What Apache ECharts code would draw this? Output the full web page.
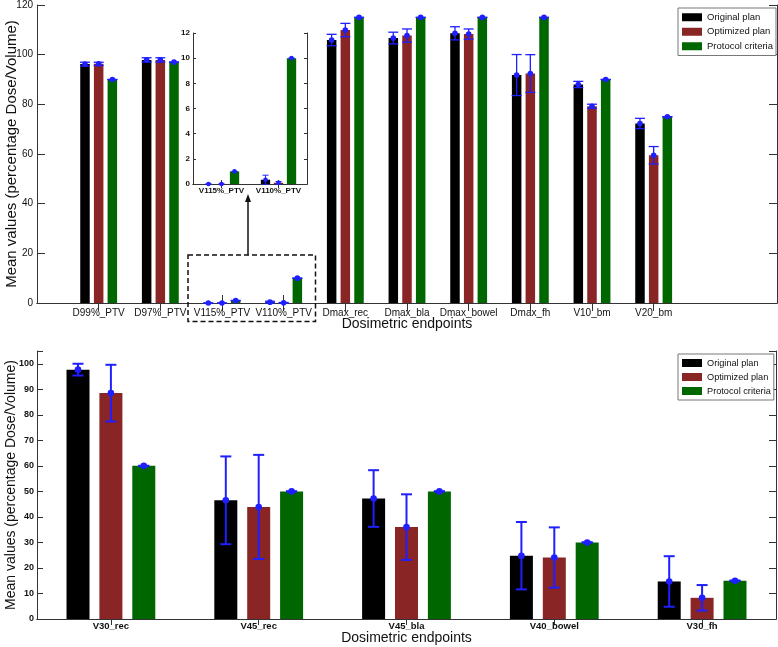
<!DOCTYPE html>
<html><head><meta charset="utf-8">
<script src="https://cdn.jsdelivr.net/npm/echarts@6/dist/echarts.min.js"></script>
<style>html,body{margin:0;padding:0;background:#fff}#c{width:778px;height:647px}</style>
</head><body><div id="c"></div>
<script>
// ---------- data ----------
const seriesNames = ['Original plan', 'Optimized plan', 'Protocol criteria'];

const topCategories = ['D99%_PTV', 'D97%_PTV', 'V115%_PTV', 'V110%_PTV', 'Dmax_rec', 'Dmax_bla', 'Dmax_bowel', 'Dmax_fh', 'V10_bm', 'V20_bm'];
const topOriginal    = [96.2, 97.9, 0, 0.34, 105.9, 106.7, 108.6, 91.8, 88.0, 72.3];
const topOriginalSd  = [0.75, 0.85, 0, 0.36, 2.3, 2.35, 2.65, 8.25, 1.25, 2.05];
const topOptimized   = [96.3, 97.9, 0, 0.1, 109.9, 107.7, 108.3, 92.4, 79.2, 59.5];
const topOptimizedSd = [0.65, 0.85, 0, 0.1, 2.7, 2.65, 2.05, 7.6, 0.85, 3.5];
const topProtocol    = [90, 97, 1, 10, 115, 115, 115, 115, 90, 75];
const topProtocolSd  = [0, 0, 0, 0, 0, 0, 0, 0, 0, 0];
const topYTicks = [0, 20, 40, 60, 80, 100, 120];

const insetCategories = ['V115%_PTV', 'V110%_PTV'];
const insetYTicks = [0, 2, 4, 6, 8, 10, 12];

const bottomCategories = ['V30_rec', 'V45_rec', 'V45_bla', 'V40_bowel', 'V30_fh'];
const bottomOriginal    = [97.7, 46.5, 47.2, 24.8, 14.7];
const bottomOriginalSd  = [2.3, 17.2, 11.1, 13.2, 9.9];
const bottomOptimized   = [88.5, 43.9, 36.0, 24.1, 8.3];
const bottomOptimizedSd = [11.1, 20.4, 12.85, 11.8, 5.0];
const bottomProtocol    = [60, 50, 50, 30, 15];
const bottomProtocolSd  = [0, 0, 0, 0, 0];
const bottomYTicks = [0, 10, 20, 30, 40, 50, 60, 70, 80, 90, 100];
const bottomYMax = 105;

// ---------- styling ----------
const COLORS = ['#000000', '#8a2525', '#006600'];
const ERR = '#1f1fff';
const FONT = "'Liberation Sans', Arial, Helvetica, sans-serif";
const AXC = '#333';

const topAxisData = [' '].concat(topCategories, ['  ', '   ']);
const isReal = (i, v) => String(v).trim() !== '';

const chart = echarts.init(document.getElementById('c'), null, {renderer: 'canvas'});

function tickedX(grid, data, pos, show, labelStyle, tickLen, gap, extra) {
  return Object.assign({
    type: 'category', gridIndex: grid, position: pos, data: data,
    boundaryGap: gap, nameMoveOverlap: false,
    axisLine: {show: true, lineStyle: {color: AXC, width: 1}},
    axisTick: {show: true, inside: true, length: tickLen, lineStyle: {color: AXC}, alignWithLabel: true},
    axisLabel: Object.assign({show: show, interval: 0, color: '#111', fontFamily: FONT, margin: 5, hideOverlap: false}, labelStyle),
    splitLine: {show: false}
  }, extra || {});
}
function tickedY(grid, ticks, max, pos, show, labelStyle, tickLen, extra) {
  const step = ticks[1] - ticks[0];
  return Object.assign({
    type: 'value', gridIndex: grid, position: pos, nameMoveOverlap: false,
    min: ticks[0], max: max, interval: step,
    axisLine: {show: true, lineStyle: {color: AXC, width: 1}},
    axisTick: {show: true, inside: true, length: tickLen, lineStyle: {color: AXC}},
    axisLabel: Object.assign({show: show, color: '#111', fontFamily: FONT, margin: 4,
      showMaxLabel: true,
      formatter: v => (ticks.indexOf(v) >= 0 ? String(v) : '')}, labelStyle),
    splitLine: {show: false}
  }, extra || {});
}

function barSeries(k, xi, yi, cats, vals, width, gap) {
  return {
    type: 'bar', name: seriesNames[k], xAxisIndex: xi, yAxisIndex: yi,
    data: vals.map((v, i) => [cats[i], v]),
    barWidth: width, barGap: gap,
    itemStyle: {color: COLORS[k]},
    emphasis: {disabled: true}, silent: true
  };
}

function errSeries(k, xi, yi, cats, means, sds, st) {
  return {
    type: 'custom', name: 'err' + k + '_' + xi, xAxisIndex: xi, yAxisIndex: yi,
    z: 5, clip: false, silent: true,
    data: means.map((m, i) => [cats[i], m, sds[i]]),
    encode: {x: 0, y: 1},
    renderItem: function (params, api) {
      const ci = api.value(0), m = api.value(1), s = api.value(2);
      const p = api.coord([ci, m]);
      const hi = api.coord([ci, m + s]);
      const lo = api.coord([ci, m - s]);
      const x = p[0] + (k - 1) * st.step;
      const ls = () => ({stroke: ERR, lineWidth: st.lw});
      return {type: 'group', children: [
        {type: 'line', shape: {x1: x, y1: hi[1], x2: x, y2: lo[1]}, style: ls()},
        {type: 'line', shape: {x1: x - st.cap / 2, y1: hi[1], x2: x + st.cap / 2, y2: hi[1]}, style: ls()},
        {type: 'line', shape: {x1: x - st.cap / 2, y1: lo[1], x2: x + st.cap / 2, y2: lo[1]}, style: ls()},
        {type: 'circle', shape: {cx: x, cy: p[1], r: st.r}, style: {fill: ERR}}
      ]};
    }
  };
}

const topVals = [topOriginal, topOptimized, topProtocol];
const topSds = [topOriginalSd, topOptimizedSd, topProtocolSd];
const insetIdx = insetCategories.map(c => topCategories.indexOf(c));
const insetVals = topVals.map(a => insetIdx.map(i => a[i]));
const insetSds = topSds.map(a => insetIdx.map(i => a[i]));
const botVals = [bottomOriginal, bottomOptimized, bottomProtocol];
const botSds = [bottomOriginalSd, bottomOptimizedSd, bottomProtocolSd];

const series = [];
for (let k = 0; k < 3; k++) series.push(barSeries(k, 0, 0, topCategories, topVals[k], 9.5, '44%'));
for (let k = 0; k < 3; k++) series.push(barSeries(k, 2, 2, insetCategories, insetVals[k], 9.3, '40%'));
for (let k = 0; k < 3; k++) series.push(barSeries(k, 4, 4, bottomCategories, botVals[k], 23, '43%'));
for (let k = 0; k < 3; k++) series.push(errSeries(k, 0, 0, topCategories, topVals[k], topSds[k], {step: 13.7, cap: 10, lw: 1.3, r: 2.8}));
for (let k = 0; k < 3; k++) series.push(errSeries(k, 2, 2, insetCategories, insetVals[k], insetSds[k], {step: 13, cap: 6, lw: 1, r: 2.3}));
for (let k = 0; k < 3; k++) series.push(errSeries(k, 4, 4, bottomCategories, botVals[k], botSds[k], {step: 32.9, cap: 11, lw: 2, r: 3.3}));

const legendBase = {
  orient: 'vertical', data: seriesNames, icon: 'rect',
  itemWidth: 20, itemHeight: 8, itemGap: 2,
  borderColor: '#777', borderWidth: 1, backgroundColor: '#fff',
  selectedMode: false
};

const gridBase = {containLabel: false, outerBoundsMode: 'none'};

const option = {
  backgroundColor: '#fff',
  animation: false,
  textStyle: {fontFamily: FONT},
  grid: [
    Object.assign({left: 37, top: 5, width: 740, height: 298, show: false}, gridBase),
    Object.assign({left: 193, top: 33, width: 114, height: 151, show: true, backgroundColor: '#fff', borderWidth: 0}, gridBase),
    Object.assign({left: 37, top: 351, width: 739, height: 268, show: false}, gridBase)
  ],
  xAxis: [
    tickedX(0, topAxisData, 'bottom', true, {fontSize: 10}, 8, false,
      {axisTick: {show: true, inside: true, length: 8, lineStyle: {color: AXC}, interval: isReal},
       name: 'Dosimetric endpoints', nameLocation: 'middle', nameGap: 14,
       nameTextStyle: {fontSize: 14, color: '#111', fontFamily: FONT, verticalAlign: 'top'}}),
    tickedX(0, topAxisData, 'top', false, {}, 8, false,
      {axisTick: {show: true, inside: true, length: 8, lineStyle: {color: AXC}, interval: isReal}}),
    tickedX(1, insetCategories, 'bottom', true, {fontSize: 8, fontWeight: 'bold', margin: 3}, 4, true),
    tickedX(1, insetCategories, 'top', false, {}, 4, true),
    tickedX(2, bottomCategories, 'bottom', true, {fontSize: 9.5, fontWeight: 'bold', margin: 2}, 6, true,
      {name: 'Dosimetric endpoints', nameLocation: 'middle', nameGap: 12,
       nameTextStyle: {fontSize: 14, color: '#111', fontFamily: FONT, verticalAlign: 'top'}}),
    tickedX(2, bottomCategories, 'top', false, {}, 6, true)
  ],
  yAxis: [
    tickedY(0, topYTicks, 120, 'left', true, {fontSize: 10}, 8,
      {name: 'Mean values (percentage Dose/Volume)', nameLocation: 'middle', nameGap: 18,
       nameTextStyle: {fontSize: 15, color: '#111', fontFamily: FONT}}),
    tickedY(0, topYTicks, 120, 'right', false, {}, 8),
    tickedY(1, insetYTicks, 12, 'left', true, {fontSize: 8, fontWeight: 'bold', margin: 3}, 3),
    tickedY(1, insetYTicks, 12, 'right', false, {}, 3),
    tickedY(2, bottomYTicks, bottomYMax, 'left', true, {fontSize: 9, fontWeight: 'bold', margin: 3}, 6,
      {name: 'Mean values (percentage Dose/Volume)', nameLocation: 'middle', nameGap: 19,
       nameTextStyle: {fontSize: 14, color: '#111', fontFamily: FONT}}),
    tickedY(2, bottomYTicks, bottomYMax, 'right', false, {}, 7)
  ],
  legend: [
    Object.assign({}, legendBase, {left: 678, top: 8, padding: [3, 3, 3, 4],
      textStyle: {fontSize: 9.5, color: '#111', fontFamily: FONT, lineHeight: 12.5}}),
    Object.assign({}, legendBase, {left: 678, top: 354, padding: [3, 3, 3, 4],
      textStyle: {fontSize: 9.2, color: '#111', fontFamily: FONT, lineHeight: 12}})
  ],
  graphic: [
    {type: 'rect', shape: {x: 188, y: 255, width: 127.5, height: 66.5}, z: 10,
     style: {fill: 'none', stroke: '#111', lineWidth: 1.5, lineDash: [5, 3]}},
    {type: 'line', shape: {x1: 248, y1: 255, x2: 248, y2: 200}, z: 10,
     style: {stroke: '#111', lineWidth: 1.5}},
    {type: 'polygon', shape: {points: [[248, 194], [245, 202], [251, 202]]}, z: 10,
     style: {fill: '#111'}}
  ],
  series: series
};
chart.setOption(option);
</script></body></html>
